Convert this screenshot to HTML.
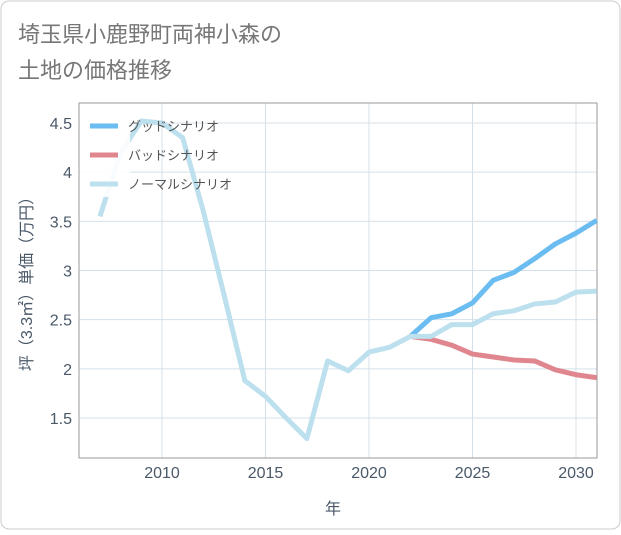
<!DOCTYPE html>
<html><head><meta charset="utf-8"><style>
body{margin:0;background:#fff;}
svg text{font-family:"Liberation Sans","Noto Sans CJK JP",sans-serif;}
</style></head><body>
<svg width="621" height="530" xmlns="http://www.w3.org/2000/svg">
<rect x="1" y="1" width="619" height="528" rx="8" fill="#fff" stroke="#ccc"/>
<text x="18" y="42" font-size="22" fill="#777">埼玉県小鹿野町両神小森の</text>
<text x="18" y="78" font-size="22" fill="#777">土地の価格推移</text>
<g id="grid"></g>
<rect x="79" y="103" width="518" height="355" fill="none" stroke="#999"/>
<g id="series"></g>
<g id="axes"></g>
<text x="333" y="514" font-size="16" fill="#4a5868" text-anchor="middle">年</text>
<text transform="translate(32,280) rotate(-90)" font-size="16" fill="#4a5868" text-anchor="middle">坪（3.3㎡）単価（万円）</text>
<g id="legend"></g>
</svg>
<script>
const years=[2007,2008,2009,2010,2011,2012,2013,2014,2015,2016,2017,2018,2019,2020,2021,2022,2023,2024,2025,2026,2027,2028,2029,2030,2031];
const normal=[3.55,4.2,4.52,4.5,4.35,3.6,2.75,1.88,1.72,1.5,1.29,2.08,1.98,2.17,2.22,2.33,2.33,2.45,2.45,2.56,2.59,2.66,2.68,2.78,2.79];
const futYears=[2022,2023,2024,2025,2026,2027,2028,2029,2030,2031];
const good=[2.33,2.52,2.56,2.67,2.9,2.98,3.12,3.27,3.38,3.51];
const bad=[2.33,2.30,2.24,2.15,2.12,2.09,2.08,1.99,1.94,1.91];
const xTicks=[2010,2015,2020,2025,2030];
const yTicks=[1.5,2,2.5,3,3.5,4,4.5];
const NS='http://www.w3.org/2000/svg';
const X=v=>162+(v-2010)*20.7;
const Y=v=>418-(v-1.5)*98.33;
function mk(tag,attrs,parent){const e=document.createElementNS(NS,tag);for(const k in attrs)e.setAttribute(k,attrs[k]);parent.appendChild(e);return e;}
const grid=document.getElementById('grid'),axes=document.getElementById('axes'),ser=document.getElementById('series'),leg=document.getElementById('legend');
xTicks.forEach(t=>{const l=mk('line',{x1:X(t),x2:X(t),y1:103,y2:458,stroke:'#d5e0ea'},grid);


const tx=mk('text',{x:X(t),y:478,'font-size':16,fill:'#4a5868','text-anchor':'middle'},axes);tx.textContent=t;

});
yTicks.forEach(t=>{const l=mk('line',{x1:79,x2:597,y1:Y(t),y2:Y(t),stroke:'#d5e0ea'},grid);


const tx=mk('text',{x:72,y:Y(t)+6,'font-size':16,fill:'#4a5868','text-anchor':'end'},axes);tx.textContent=t;

});
function line(xs,ys,color,name){const d=xs.map((x,i)=>(i?'L':'M')+X(x)+','+Y(ys[i])).join(' ');
const p=mk('path',{d:d,fill:'none',stroke:color,'stroke-width':5,'stroke-linejoin':'round'},ser);

}
line(futYears,good,'#6bbcf0','good-scenario-line');
line(futYears,bad,'#e0868e','bad-scenario-line');
line(years,normal,'#bde0ee','normal-scenario-line');
const bg=mk('rect',{x:80,y:108,width:50,height:89,fill:'#fff','fill-opacity':0.9},leg);


[['グッドシナリオ','#6bbcf0'],['バッドシナリオ','#e0868e'],['ノーマルシナリオ','#bde0ee']].forEach((e,i)=>{
const y=126+i*29;
const l=mk('line',{x1:90,x2:118,y1:y,y2:y,stroke:e[1],'stroke-width':5},leg);


const t=mk('text',{x:128,y:y+5,'font-size':13,fill:'#555'},leg);t.textContent=e[0];

});
</script>
</body></html>
